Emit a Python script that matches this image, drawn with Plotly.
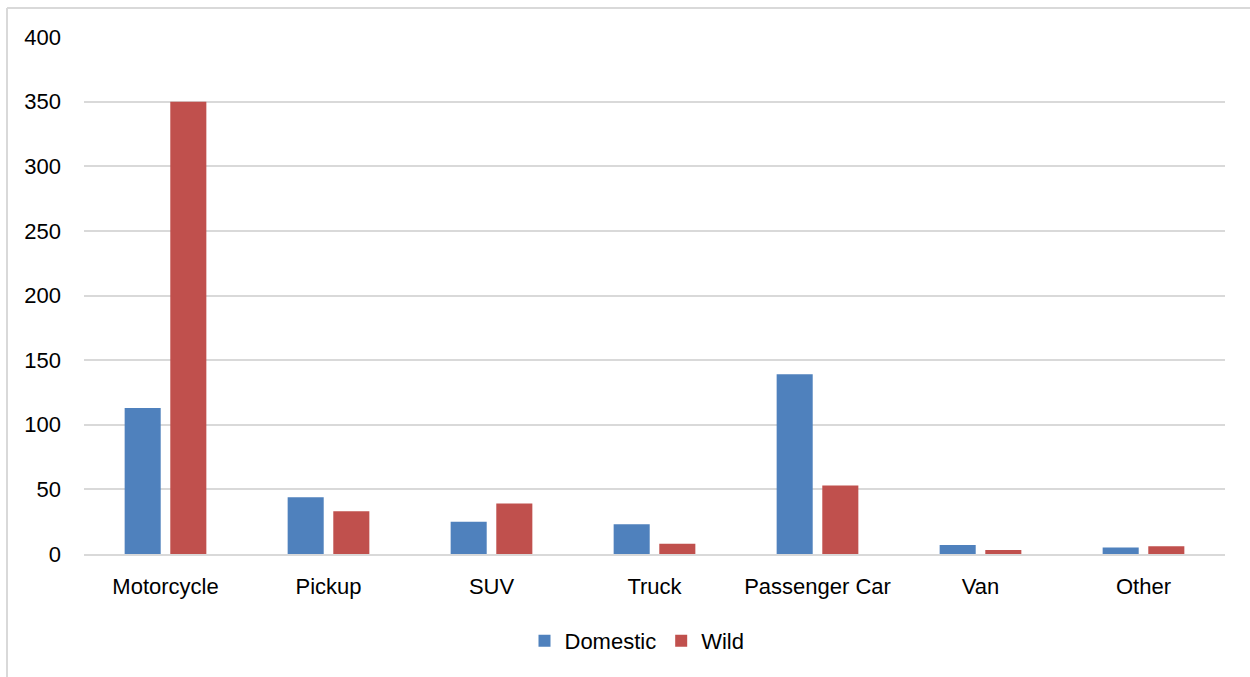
import plotly.graph_objects as go

categories = ["Motorcycle", "Pickup", "SUV", "Truck", "Passenger Car", "Van", "Other"]
domestic = [113, 44, 25, 23, 139, 7, 5]
wild = [350, 33, 39, 8, 53, 3, 6]
y_ticks = [0, 50, 100, 150, 200, 250, 300, 350, 400]

FONT = "Liberation Sans, Arial, sans-serif"
GRID = "#D9D9D9"
FS = 22

fig = go.Figure()
fig.add_trace(go.Bar(name="Domestic", x=categories, y=domestic,
                     marker=dict(color="#4F81BD", line=dict(width=0))))
fig.add_trace(go.Bar(name="Wild", x=categories, y=wild,
                     marker=dict(color="#C0504D", line=dict(width=0))))

W, H = 1250, 677
L, R, T, B = 84, 25, 37, 123
pw, ph = W - L - R, H - T - B

def px_x(x):
    return (x - L) / pw

def px_y(y):
    return (H - B - y) / ph

# outer chart frame (top and left edges)
fig.add_shape(type="line", xref="paper", yref="paper",
              x0=px_x(7), x1=px_x(1262), y0=px_y(8), y1=px_y(8),
              line=dict(color=GRID, width=2))
fig.add_shape(type="line", xref="paper", yref="paper",
              x0=px_x(7), x1=px_x(7), y0=px_y(8), y1=px_y(690),
              line=dict(color=GRID, width=2))

fig.update_layout(
    width=W, height=H,
    margin=dict(l=L, r=R, t=T, b=B),
    paper_bgcolor="white", plot_bgcolor="white",
    barmode="group", bargap=0.44, bargroupgap=0.21,
    font=dict(family=FONT, size=FS, color="#000000"),
    showlegend=True,
    legend=dict(orientation="h", x=px_x(637), xanchor="center",
                y=px_y(641), yanchor="middle",
                font=dict(family=FONT, size=FS, color="#000000"),
                itemsizing="constant", itemwidth=30, traceorder="normal"),
    xaxis=dict(showgrid=False, showline=True, linecolor=GRID, linewidth=2,
               ticks="", tickfont=dict(family=FONT, size=FS),
               ticklabelstandoff=12),
    yaxis=dict(range=[0, 400], tickvals=y_ticks, showgrid=True, gridcolor=GRID,
               gridwidth=2, zeroline=False, showline=False, ticks="",
               tickfont=dict(family=FONT, size=FS), ticklabelstandoff=22),
)

fig.write_html("out.html")
